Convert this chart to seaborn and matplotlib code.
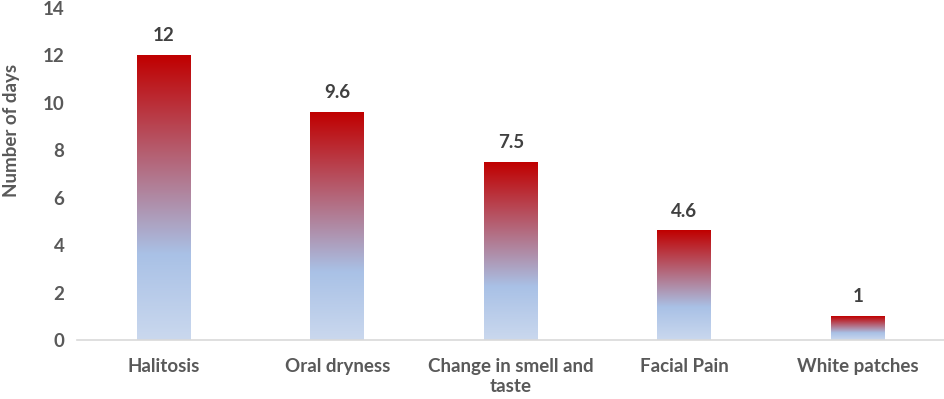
import matplotlib
matplotlib.use("Agg")
import matplotlib.pyplot as plt
import seaborn as sns
import numpy as np
import pandas as pd
from matplotlib.colors import LinearSegmentedColormap

# Data
symptoms = ["Halitosis", "Oral dryness", "Change in smell and\ntaste", "Facial Pain", "White patches"]
days = [12, 9.6, 7.5, 4.6, 1]
value_labels = ["12", "9.6", "7.5", "4.6", "1"]

df = pd.DataFrame({"symptom": symptoms, "days": days})

sns.set_style("white")
plt.rcParams['font.family'] = ['Lato', 'DejaVu Sans']
text_color = "#595959"

# bottom light blue -> blue -> dark red at top, stretched over each bar
grad_cmap = LinearSegmentedColormap.from_list(
    "bar_grad", [(0.0, "#CAD8EE"), (0.3, "#A9C1E6"), (1.0, "#C00000")])

fig = plt.figure(figsize=(9.45, 3.99), dpi=100)
ax = fig.add_axes([0.0815, 0.148, 0.918, 0.832])

sns.barplot(data=df, x="symptom", y="days", ax=ax, width=0.31, color="white")
ax.set_ylim(0, 14)
ax.set_yticks(range(0, 15, 2))
xlim = ax.get_xlim()

grad = np.linspace(0, 1, 256).reshape(-1, 1)
for patch, lab in zip(ax.patches, value_labels):
    x0, y0 = patch.get_x(), patch.get_y()
    w, h = patch.get_width(), patch.get_height()
    patch.set_facecolor("none")
    patch.set_edgecolor("none")
    ax.imshow(grad, cmap=grad_cmap, origin="lower", aspect="auto",
              extent=[x0, x0 + w, y0, y0 + h], zorder=2)
    ax.annotate(lab, (x0 + w / 2, y0 + h), xytext=(0, 8), textcoords="offset points",
                ha="center", va="bottom", fontsize=13.5, fontweight="bold", color="#404040")

ax.set_xlim(xlim)
ax.set_ylim(0, 14)

for s in ["top", "right", "left"]:
    ax.spines[s].set_visible(False)
ax.spines["bottom"].set_color("#D9D9D9")
ax.spines["bottom"].set_linewidth(1.2)
ax.tick_params(axis="x", length=0, labelsize=13.5, colors=text_color, pad=13)
ax.tick_params(axis="y", length=0, labelsize=13.5, colors=text_color, pad=9)
for t in ax.get_xticklabels() + ax.get_yticklabels():
    t.set_fontweight("bold")
ax.set_xlabel("")
ax.set_ylabel("Number of days", fontsize=13.5, fontweight="bold", color=text_color)
ax.yaxis.set_label_coords(-0.066, 0.63)

fig.savefig("out.png", dpi=100)
